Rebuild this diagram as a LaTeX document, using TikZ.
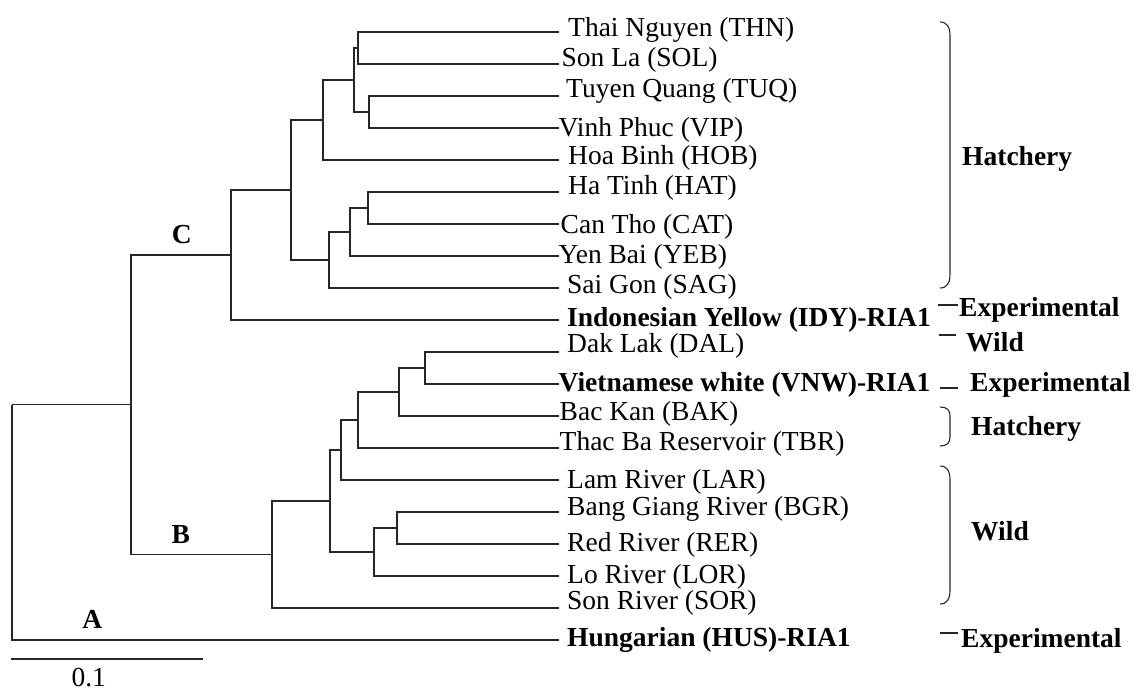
\documentclass[tikz,border=0pt]{standalone}
\usepackage{fontspec}
\setmainfont{Liberation Serif}
\begin{document}
\begin{tikzpicture}[x=1pt,y=-1pt,
  br/.style={line width=1.1pt, draw=black!85},
  lab/.style={font=\fontsize{27.5}{30}\selectfont, inner sep=0pt, anchor=base west},
  blab/.style={font=\fontsize{27.5}{30}\selectfont\bfseries, inner sep=0pt, anchor=base west},
  clab/.style={font=\fontsize{27.5}{30}\selectfont\bfseries, inner sep=0pt, anchor=base}]
\useasboundingbox (0,0) rectangle (1138,691);

% leaf ends and labels
\coordinate (eTHN) at (559,32);  \node[lab] (tTHN) at (568,36.7) {Thai Nguyen (THN)};
\coordinate (eSOL) at (559,64);  \node[lab] (tSOL) at (561.5,66.7) {Son La (SOL)};
\coordinate (eTUQ) at (559,96);  \node[lab] (tTUQ) at (566,97.5) {Tuyen Quang (TUQ)};
\coordinate (eVIP) at (559,128); \node[lab] (tVIP) at (558.5,136) {Vinh Phuc (VIP)};
\coordinate (eHOB) at (559,160); \node[lab] (tHOB) at (568,164) {Hoa Binh (HOB)};
\coordinate (eHAT) at (559,192); \node[lab] (tHAT) at (568,194.5) {Ha Tinh (HAT)};
\coordinate (eCAT) at (559,224); \node[lab] (tCAT) at (560.5,233.5) {Can Tho (CAT)};
\coordinate (eYEB) at (559,256); \node[lab] (tYEB) at (558.5,263) {Yen Bai (YEB)};
\coordinate (eSAG) at (559,288); \node[lab] (tSAG) at (567,293) {Sai Gon (SAG)};
\coordinate (eIDY) at (559,320); \node[blab] (tIDY) at (567,326.5) {Indonesian Yellow (IDY)-RIA1};
\coordinate (eDAL) at (559,352); \node[lab] (tDAL) at (567,352) {Dak Lak (DAL)};
\coordinate (eVNW) at (559,384); \node[blab] (tVNW) at (558.5,391.5) {Vietnamese white (VNW)-RIA1};
\coordinate (eBAK) at (559,416); \node[lab] (tBAK) at (559.5,420) {Bac Kan (BAK)};
\coordinate (eTBR) at (559,448); \node[lab] (tTBR) at (559.5,450) {Thac Ba Reservoir (TBR)};
\coordinate (eLAR) at (559,480); \node[lab] (tLAR) at (567,488) {Lam River (LAR)};
\coordinate (eBGR) at (559,512); \node[lab] (tBGR) at (567,515) {Bang Giang River (BGR)};
\coordinate (eRER) at (559,544); \node[lab] (tRER) at (567,551.5) {Red River (RER)};
\coordinate (eLOR) at (559,576); \node[lab] (tLOR) at (567,583.5) {Lo River (LOR)};
\coordinate (eSOR) at (559,608); \node[lab] (tSOR) at (567,609.5) {Son River (SOR)};
\coordinate (eHUS) at (559,640); \node[blab] (tHUS) at (567,646.5) {Hungarian (HUS)-RIA1};

% internal nodes
\coordinate (n1) at (358,48);
\coordinate (n2) at (369,112);
\coordinate (n3) at (354,80);
\coordinate (n4) at (323,120);
\coordinate (n5) at (368,208);
\coordinate (n6) at (350,232);
\coordinate (n7) at (329,260);
\coordinate (n8) at (291,190);
\coordinate (nC) at (231,255);
\coordinate (n9) at (425,368);
\coordinate (n10) at (399,392);
\coordinate (n11) at (358,420);
\coordinate (n12) at (341,450);
\coordinate (n13) at (397,528);
\coordinate (n14) at (374,552);
\coordinate (n15) at (330,501);
\coordinate (nB) at (272,554.5);
\coordinate (n16) at (131,404.75);
\coordinate (root) at (12,404.75);

% branches
\draw[br] (n1) |- (eTHN); \draw[br] (n1) |- (eSOL);
\draw[br] (n2) |- (eTUQ); \draw[br] (n2) |- (eVIP);
\draw[br] (n3) |- (n1);   \draw[br] (n3) |- (n2);
\draw[br] (n4) |- (n3);   \draw[br] (n4) |- (eHOB);
\draw[br] (n5) |- (eHAT); \draw[br] (n5) |- (eCAT);
\draw[br] (n6) |- (n5);   \draw[br] (n6) |- (eYEB);
\draw[br] (n7) |- (n6);   \draw[br] (n7) |- (eSAG);
\draw[br] (n8) |- (n4);   \draw[br] (n8) |- (n7);
\draw[br] (nC) |- (n8);   \draw[br] (nC) |- (eIDY);
\draw[br] (n9) |- (eDAL); \draw[br] (n9) |- (eVNW);
\draw[br] (n10) |- (n9);  \draw[br] (n10) |- (eBAK);
\draw[br] (n11) |- (n10); \draw[br] (n11) |- (eTBR);
\draw[br] (n12) |- (n11); \draw[br] (n12) |- (eLAR);
\draw[br] (n13) |- (eBGR); \draw[br] (n13) |- (eRER);
\draw[br] (n14) |- (n13); \draw[br] (n14) |- (eLOR);
\draw[br] (n15) |- (n12); \draw[br] (n15) |- (n14);
\draw[br] (nB) |- (n15);  \draw[br] (nB) |- (eSOR);
\draw[br] (n16) |- (nC);  \draw[br] (n16) |- (nB);
\draw[br] (root) -- (n16); \draw[br] (root) |- (eHUS);

% clade labels
\node[clab] (labC) at (181.7,243) {C};
\node[clab] (labB) at (180.7,543) {B};
\node[clab] (labA) at (92.2,628) {A};

% scale bar
\coordinate (sb1) at (11,659);
\coordinate (sb2) at (203,659);
\draw[br] (sb1) -- (sb2);
\node[font=\fontsize{27.5}{30}\selectfont, inner sep=0pt, anchor=base] (sbl) at (88.8,686.5) {0.1};

% brackets
\draw[br] (940,22) .. controls (947,22) and (950,27) .. (950,36) -- (950,274) .. controls (950,283) and (947,288) .. (940,288);
\draw[br] (940,407) .. controls (947,407) and (950,410) .. (950,416) -- (950,437) .. controls (950,443) and (947,446) .. (940,446);
\draw[br] (940,466) .. controls (947,466) and (950,471) .. (950,480) -- (950,590) .. controls (950,599) and (947,604) .. (940,604);

% dashes
\coordinate (d1a) at (938,305); \coordinate (d1b) at (958,305);
\coordinate (d2a) at (939,335); \coordinate (d2b) at (956,335);
\coordinate (d3a) at (940,388); \coordinate (d3b) at (958,388);
\coordinate (d4a) at (940,633); \coordinate (d4b) at (958,633);
\draw[br] (d1a) -- (d1b);
\draw[br] (d2a) -- (d2b);
\draw[br] (d3a) -- (d3b);
\draw[br] (d4a) -- (d4b);

% group labels
\node[blab] (gH1) at (962,165) {Hatchery};
\node[blab] (gE1) at (959,316) {Experimental};
\node[blab] (gW1) at (966,351) {Wild};
\node[blab] (gE2) at (970,391) {Experimental};
\node[blab] (gH2) at (971,435) {Hatchery};
\node[blab] (gW2) at (971,540) {Wild};
\node[blab] (gE3) at (961,647) {Experimental};
\end{tikzpicture}
\end{document}
